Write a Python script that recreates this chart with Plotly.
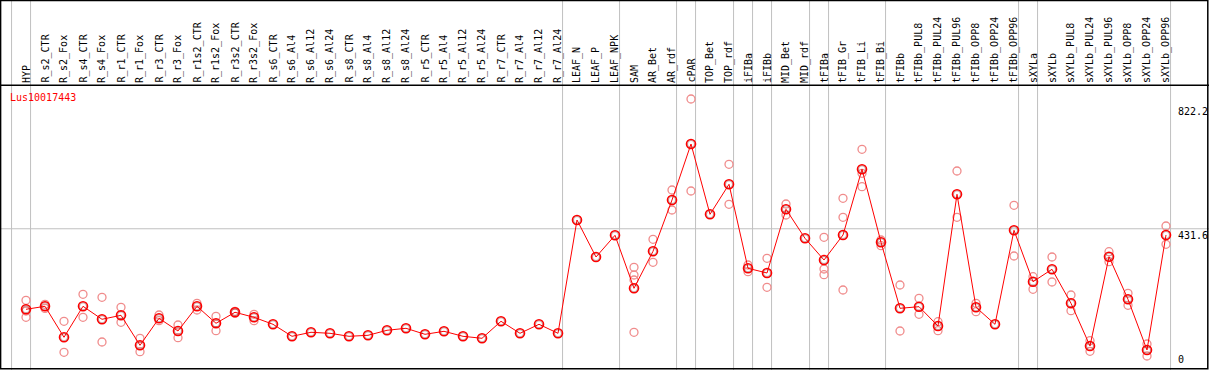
import plotly.graph_objects as go

categories = ["HYP", "R_s2_CTR", "R_s2_Fox", "R_s4_CTR", "R_s4_Fox", "R_r1_CTR", "R_r1_Fox",
              "R_r3_CTR", "R_r3_Fox", "R_r1s2_CTR", "R_r1s2_Fox", "R_r3s2_CTR", "R_r3s2_Fox",
              "R_s6_CTR", "R_s6_Al4", "R_s6_Al12", "R_s6_Al24", "R_s8_CTR", "R_s8_Al4", "R_s8_Al12",
              "R_s8_Al24", "R_r5_CTR", "R_r5_Al4", "R_r5_Al12", "R_r5_Al24", "R_r7_CTR", "R_r7_Al4",
              "R_r7_Al12", "R_r7_Al24", "LEAF_N", "LEAF_P", "LEAF_NPK", "SAM", "AR_Bet", "AR_rdf",
              "cPAR", "TOP_Bet", "TOP_rdf", "iFIBa", "iFIBb", "MID_Bet", "MID_rdf", "tFIBa",
              "tFIB_Gr", "tFIB_Li", "tFIB_Bi", "tFIBb", "tFIBb_PUL8", "tFIBb_PUL24", "tFIBb_PUL96",
              "tFIBb_OPP8", "tFIBb_OPP24", "tFIBb_OPP96", "sXYLa", "sXYLb", "sXYLb_PUL8",
              "sXYLb_PUL24", "sXYLb_PUL96", "sXYLb_OPP8", "sXYLb_OPP24", "sXYLb_OPP96"]

mean_values = [178.3, 187.7, 90.3, 187.7, 146.9, 159.4, 65.1, 150.0, 110.1, 187.7, 134.3, 168.9,
               153.1, 131.1, 93.4, 106.0, 102.8, 93.4, 96.5, 112.3, 118.6, 99.7, 109.1, 93.4, 87.1,
               140.6, 102.8, 131.1, 102.8, 459.1, 342.8, 411.0, 244.3, 360.7, 522.0, 698.1, 477.0,
               571.4, 307.2, 292.5, 492.8, 401.6, 333.3, 412.0, 618.6, 389.0, 181.4, 186.5, 125.8,
               539.9, 184.6, 131.1, 426.7, 265.1, 304.1, 197.2, 62.9, 343.7, 209.7, 50.3, 412.0]

replicate_values = [
    [206.6, 173.0, 153.1], [194.0, 181.0], [140.6, 43.1], [225.5, 153.1], [216.0, 75.5],
    [184.6, 137.4], [87.1, 45.0], [160.4, 142.5], [128.9, 89.0], [197.2, 176.1], [156.3, 111.0],
    [172.0, 166.0], [162.6, 142.5], [], [], [], [], [], [], [], [], [], [], [], [], [], [], [], [],
    [], [], [], [310.4, 286.2, 270.4, 106.0], [398.4, 326.1], [553.5, 490.6], [839.6, 550.3],
    [], [634.3, 508.5], [317.6, 296.5], [338.7, 247.5], [509.4, 474.8], [],
    [404.7, 305.0, 287.1], [527.4, 467.6, 239.0], [681.5, 606.0, 563.8], [396.2, 378.3],
    [254.7, 110.1], [212.9, 162.6], [139.3, 111.0], [613.2, 467.6], [197.2, 170.8], [],
    [505.4, 345.9], [280.8, 241.2], [342.8, 264.2], [223.3, 173.9], [79.6, 46.2], [359.4, 328.0],
    [228.6, 190.9], [69.2, 31.4], [440.3, 382.7]]

group_ends = [-1, 0, 28, 31, 34, 35, 37, 38, 39, 41, 42, 45, 52, 53, 60]
y_ticks = [0, 431.6, 822.2]
gene_name = "Lus10017443"

W, H = 1209, 370
FONT = "DejaVu Sans Mono"
GRAY = "#c0c0c0"

x_idx = list(range(len(categories)))
rep_x, rep_y = [], []
for i, reps in enumerate(replicate_values):
    for v in reps:
        rep_x.append(i)
        rep_y.append(v)

fig = go.Figure()
fig.add_trace(go.Scatter(x=rep_x, y=rep_y, mode="markers",
                         marker=dict(symbol="circle-open", size=8, color="#f08c8c",
                                     line=dict(width=1.3)),
                         hoverinfo="skip", showlegend=False))
fig.add_trace(go.Scatter(x=x_idx, y=mean_values, mode="lines+markers",
                         line=dict(color="#ff0000", width=1),
                         marker=dict(symbol="circle-open", size=9, color="#ff0000",
                                     line=dict(width=1.6)),
                         showlegend=False))
fig.add_trace(go.Scatter(x=x_idx, y=mean_values, mode="markers",
                         marker=dict(symbol="circle-open", size=7, color="rgba(90,0,0,0.45)",
                                     line=dict(width=0.7)),
                         hoverinfo="skip", showlegend=False))

shapes = []
# separators
for g in group_ends:
    xv = g + 0.24
    shapes.append(dict(type="line", xref="x", yref="paper", x0=xv, x1=xv, y0=0, y1=1,
                       line=dict(color=GRAY, width=1), layer="below"))
# middle gridline
shapes.append(dict(type="line", xref="paper", yref="y", x0=0, x1=1, y0=y_ticks[1], y1=y_ticks[1],
                   line=dict(color=GRAY, width=1), layer="below"))
# header line
hy = 1 - 85.3 / H
shapes.append(dict(type="line", xref="paper", yref="paper", x0=0, x1=1, y0=hy, y1=hy,
                   line=dict(color="black", width=1.5)))
# frame
shapes.append(dict(type="rect", xref="paper", yref="paper", x0=0.6 / W, x1=1207.8 / W,
                   y0=1.2 / H, y1=1 - 0.6 / H, line=dict(color="black", width=1.5)))

annotations = []
label_bottom = 1 - 84 / H
for i, c in enumerate(categories):
    annotations.append(dict(x=i, xref="x", y=label_bottom, yref="paper", text=c,
                            textangle=-90, showarrow=False, xanchor="center", yanchor="bottom",
                            font=dict(family=FONT, size=10, color="black"), borderpad=0))
annotations.append(dict(x=9 / W, xref="paper", y=1 - 97.5 / H, yref="paper", text=gene_name,
                        showarrow=False, xanchor="left", yanchor="middle",
                        font=dict(family=FONT, size=10, color="#ff0000"), borderpad=0))
for t in y_ticks:
    txt = "0" if t == 0 else f"{t:.1f}"
    annotations.append(dict(x=1177 / W, xref="paper", y=t, yref="y", text=txt,
                            showarrow=False, xanchor="left",
                            yanchor="bottom" if t == 0 else "top",
                            font=dict(family=FONT, size=10, color="black"), borderpad=0))

# axis ranges: 19 px per category, first category at 26 px; value scale 0.318 px/unit, zero at 366 px
px_per_cat = 19.0
x0 = -26 / px_per_cat
x1 = x0 + W / px_per_cat
py_per_unit = 0.318
zero_px = 366.0
y_lo = (zero_px - H) / py_per_unit
y_hi = zero_px / py_per_unit

fig.update_layout(
    width=W, height=H, autosize=False,
    margin=dict(l=0, r=0, t=0, b=0),
    paper_bgcolor="white", plot_bgcolor="white",
    xaxis=dict(range=[x0, x1], visible=False, showgrid=False, zeroline=False),
    yaxis=dict(range=[y_lo, y_hi], visible=False, showgrid=False, zeroline=False),
    shapes=shapes, annotations=annotations, showlegend=False,
)

fig.write_html("out.html", config={"displayModeBar": False},
               post_script="document.body.style.margin='0';document.body.style.overflow='hidden';")
